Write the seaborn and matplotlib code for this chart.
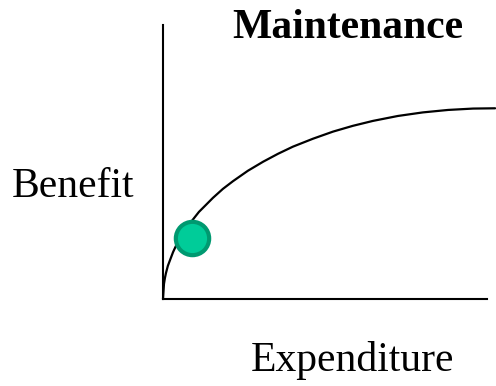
import numpy as np
import pandas as pd
import seaborn as sns
import matplotlib.pyplot as plt

# curve (expenditure vs benefit, arbitrary units)
expenditure = [0, 0.03, 0.06, 0.09, 0.15, 0.22, 0.31, 0.40, 0.49, 0.62, 0.77, 0.93,
               1.11, 1.33, 1.54, 1.85, 2.16, 2.62, 3.09, 3.55, 4.01, 4.63, 5.25,
               5.86, 6.48, 7.25, 8.02, 8.80, 9.57, 10.25]
benefit = [0, 0.55, 0.77, 0.94, 1.21, 1.43, 1.71, 1.94, 2.15, 2.40, 2.67, 2.91,
           3.18, 3.44, 3.69, 4.02, 4.30, 4.68, 5.01, 5.30, 5.56, 5.85, 6.11,
           6.32, 6.50, 6.68, 6.81, 6.90, 6.95, 6.96]

# green dot
dot_x = [0.90]
dot_y = [2.23]

sns.set_style("white")
plt.rcParams['font.family'] = ['Liberation Serif', 'DejaVu Serif']
plt.rcParams['text.color'] = 'black'

fig = plt.figure(figsize=(4.96, 3.86), dpi=100)
ax = fig.add_axes([163/496, 1 - 299/386, (487-163)/496, (299-25)/386])

curve = pd.DataFrame({'expenditure': expenditure, 'benefit': benefit})
sns.lineplot(data=curve, x='expenditure', y='benefit', sort=False,
             color='black', linewidth=1.6, ax=ax, clip_on=False)
sns.scatterplot(x=dot_x, y=dot_y, s=24**2, color='#00CC99',
                edgecolor='#009970', linewidth=3, ax=ax, zorder=5, clip_on=False)

ax.set_xlim(0, 10)
ax.set_ylim(0, 10)
ax.set_xticks([])
ax.set_yticks([])
ax.set_xlabel('')
ax.set_ylabel('')
for s in ['top', 'right']:
    ax.spines[s].set_visible(False)
for s in ['left', 'bottom']:
    ax.spines[s].set_color('black')
    ax.spines[s].set_linewidth(1.5)

fig.text(232/496, 1 - 38/386, 'Maintenance', ha='left', va='baseline',
         fontsize=30, fontweight='bold')
fig.text(12/496, 1 - 197/386, 'Benefit', ha='left', va='baseline', fontsize=30)
fig.text(251/496, 1 - 371/386, 'Expenditure', ha='left', va='baseline', fontsize=30)

fig.savefig('out.png', dpi=100)
